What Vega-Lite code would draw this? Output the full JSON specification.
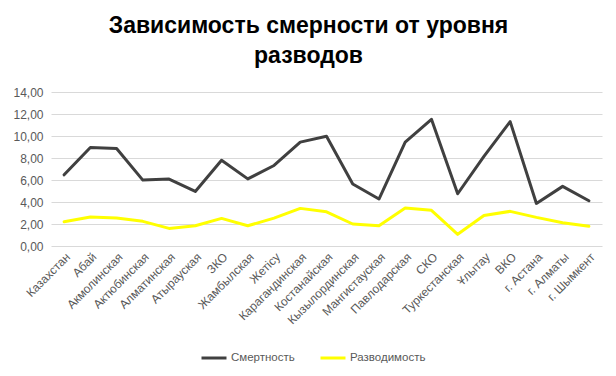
{
  "$schema": "https://vega.github.io/schema/vega-lite/v6.json",
  "width": 551,
  "height": 154,
  "autosize": {"type": "none"},
  "padding": {"left": 51, "top": 92, "right": 14, "bottom": 130},
  "background": "white",
  "title": {
    "text": ["Зависимость смерности от уровня", "разводов"],
    "font": "Liberation Sans",
    "fontSize": 23,
    "fontWeight": "bold",
    "color": "#000000",
    "anchor": "middle",
    "frame": "group",
    "dx": -18,
    "lineHeight": 30,
    "offset": 18
  },
  "data": {
    "values": [
      {"region": "Казахстан", "series": "Смертность", "value": 6.47},
      {"region": "Абай", "series": "Смертность", "value": 8.96},
      {"region": "Акмолинская", "series": "Смертность", "value": 8.87},
      {"region": "Актюбинская", "series": "Смертность", "value": 5.99},
      {"region": "Алматинская", "series": "Смертность", "value": 6.08},
      {"region": "Атырауская", "series": "Смертность", "value": 4.96},
      {"region": "ЗКО", "series": "Смертность", "value": 7.8},
      {"region": "Жамбылская", "series": "Смертность", "value": 6.1},
      {"region": "Жетісу", "series": "Смертность", "value": 7.32},
      {"region": "Карагандинская", "series": "Смертность", "value": 9.44},
      {"region": "Костанайская", "series": "Смертность", "value": 9.98},
      {"region": "Кызылординская", "series": "Смертность", "value": 5.63},
      {"region": "Мангистауская", "series": "Смертность", "value": 4.27},
      {"region": "Павлодарская", "series": "Смертность", "value": 9.44},
      {"region": "СКО", "series": "Смертность", "value": 11.52},
      {"region": "Туркестанская", "series": "Смертность", "value": 4.75},
      {"region": "Ұлытау", "series": "Смертность", "value": 8.15},
      {"region": "ВКО", "series": "Смертность", "value": 11.31},
      {"region": "г. Астана", "series": "Смертность", "value": 3.87},
      {"region": "г. Алматы", "series": "Смертность", "value": 5.42},
      {"region": "г. Шымкент", "series": "Смертность", "value": 4.11},
      {"region": "Казахстан", "series": "Разводимость", "value": 2.2},
      {"region": "Абай", "series": "Разводимость", "value": 2.63},
      {"region": "Акмолинская", "series": "Разводимость", "value": 2.54},
      {"region": "Актюбинская", "series": "Разводимость", "value": 2.24},
      {"region": "Алматинская", "series": "Разводимость", "value": 1.6},
      {"region": "Атырауская", "series": "Разводимость", "value": 1.84},
      {"region": "ЗКО", "series": "Разводимость", "value": 2.51},
      {"region": "Жамбылская", "series": "Разводимость", "value": 1.84},
      {"region": "Жетісу", "series": "Разводимость", "value": 2.53},
      {"region": "Карагандинская", "series": "Разводимость", "value": 3.42},
      {"region": "Костанайская", "series": "Разводимость", "value": 3.11},
      {"region": "Кызылординская", "series": "Разводимость", "value": 2.0},
      {"region": "Мангистауская", "series": "Разводимость", "value": 1.84},
      {"region": "Павлодарская", "series": "Разводимость", "value": 3.45},
      {"region": "СКО", "series": "Разводимость", "value": 3.24},
      {"region": "Туркестанская", "series": "Разводимость", "value": 1.06},
      {"region": "Ұлытау", "series": "Разводимость", "value": 2.78},
      {"region": "ВКО", "series": "Разводимость", "value": 3.15},
      {"region": "г. Астана", "series": "Разводимость", "value": 2.6},
      {"region": "г. Алматы", "series": "Разводимость", "value": 2.11},
      {"region": "г. Шымкент", "series": "Разводимость", "value": 1.79}
    ]
  },
  "mark": {"type": "line", "strokeWidth": 3, "strokeCap": "round", "strokeJoin": "round"},
  "encoding": {
    "x": {
      "field": "region",
      "type": "nominal",
      "sort": null,
      "scale": {"type": "point", "padding": 0.5},
      "axis": {
        "title": null,
        "labelAngle": -45,
        "labelFont": "Liberation Sans",
        "labelFontSize": 12,
        "labelColor": "#595959",
        "labelPadding": 5,
        "ticks": false,
        "domain": false,
        "grid": false
      }
    },
    "y": {
      "field": "value",
      "type": "quantitative",
      "scale": {"domain": [0, 14], "nice": false},
      "axis": {
        "title": null,
        "values": [0, 2, 4, 6, 8, 10, 12, 14],
        "labelExpr": "replace(format(datum.value, '.2f'), '.', ',')",
        "labelFont": "Liberation Sans",
        "labelFontSize": 12,
        "labelColor": "#595959",
        "labelPadding": 8,
        "ticks": false,
        "domain": false,
        "grid": true,
        "gridColor": "#d9d9d9",
        "gridWidth": 1
      }
    },
    "color": {
      "field": "series",
      "type": "nominal",
      "scale": {"domain": ["Смертность", "Разводимость"], "range": ["#404040", "#ffff00"]},
      "legend": {
        "title": null,
        "orient": "none",
        "direction": "horizontal",
        "legendX": 149,
        "legendY": 252,
        "symbolType": "stroke",
        "symbolSize": 625,
        "symbolStrokeWidth": 3,
        "labelFont": "Liberation Sans",
        "labelFontSize": 11.5,
        "labelColor": "#595959",
        "labelOffset": 3,
        "columnPadding": 19
      }
    }
  },
  "config": {"view": {"stroke": null}}
}
